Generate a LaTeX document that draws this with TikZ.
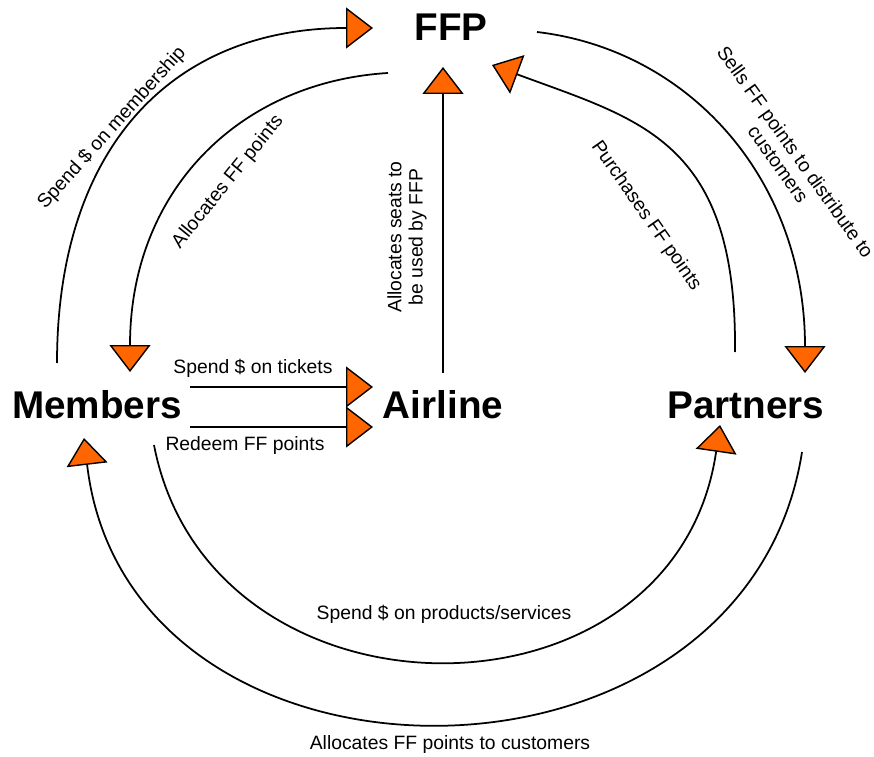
\documentclass[tikz,border=0pt]{standalone}
\usepackage{fontspec}
\setmainfont{Liberation Sans}
\usetikzlibrary{arrows.meta, calc}
\definecolor{tipfill}{RGB}{255,102,0}

\begin{document}
\begin{tikzpicture}[x=0.02cm, y=-0.02cm]

  \tikzset{
    party/.style = {
      inner sep=0pt, font=\fontsize{22}{26}\selectfont\bfseries
    },
    flow/.style = {
      -{Triangle[length=0.54cm, width=0.82cm, fill=tipfill, line width=0.8pt]},
      line width=1pt
    },
    lbl/.style = {
      inner sep=0pt, align=center, font=\fontsize{11}{12}\selectfont
    }
  }

  \useasboundingbox (0,0) rectangle (874,756);

  % --- Parties ---------------------------------------------------------------
  \node (ffp)      [party] at (451,27)  {FFP};
  \node (members)  [party] at (97,405)  {Members};
  \node (airline)  [party] at (443,405) {Airline};
  \node (partners) [party] at (746,405) {Partners};

  % --- Flows round the FFP ---------------------------------------------------
  \draw [flow] ($(members)+(-40,-42)$)
    .. controls +(0,-213) and +(-203,0) .. ($(ffp)+(-78,1)$);
  \draw [flow] ($(ffp)+(-63,46)$)
    .. controls +(-148,9) and +(0,-182) .. ($(members)+(33,-33)$);
  \draw [flow] ($(airline)+(0,-32)$) -- ($(ffp)+(-8,40)$);
  \draw [flow] ($(partners)+(-11,-53)$)
    .. controls +(2,-212) and +(148,55) .. ($(ffp)+(41,38)$);
  \draw [flow] ($(ffp)+(86,5)$)
    .. controls +(153,18) and +(0,-193) .. ($(partners)+(59,-32)$);

  \node (lmember) [lbl, rotate=48]  at (112,128) {Spend \$ on membership};
  \node (lalloc)  [lbl, rotate=51]  at (228,182) {Allocates FF points};
  \node (lseats)  [lbl, rotate=90]  at (407,237) {Allocates seats to\\be used by FFP};
  \node (lbuy)    [lbl, rotate=-55] at (646,216) {Purchases FF points};
  \node (lsell)   [lbl, rotate=-54.5] at (787,158)
    {Sells FF points to distribute to\\customers};

  % --- Members to airline ----------------------------------------------------
  \draw [flow] ($(members)+(93,-18)$) -- ($(airline)+(-70,-18)$);
  \draw [flow] ($(members)+(93,22)$)  -- ($(airline)+(-70,22)$);

  \node (ltickets) [lbl] at (253,368) {Spend \$ on tickets};
  \node (lredeem)  [lbl] at (245,446) {Redeem FF points};

  % --- Members and partners --------------------------------------------------
  \draw [flow] ($(members)+(57,40)$)
    .. controls +(56,290) and +(-45,310) .. ($(partners)+(-26,20)$);
  \draw [flow] ($(partners)+(56,47)$)
    .. controls +(-57,363) and +(44,377) .. ($(members)+(-13,33)$);

  \node (lproducts) [lbl] at (444,614) {Spend \$ on products/services};
  \node (lcust)     [lbl] at (450,744) {Allocates FF points to customers};

\end{tikzpicture}
\end{document}
